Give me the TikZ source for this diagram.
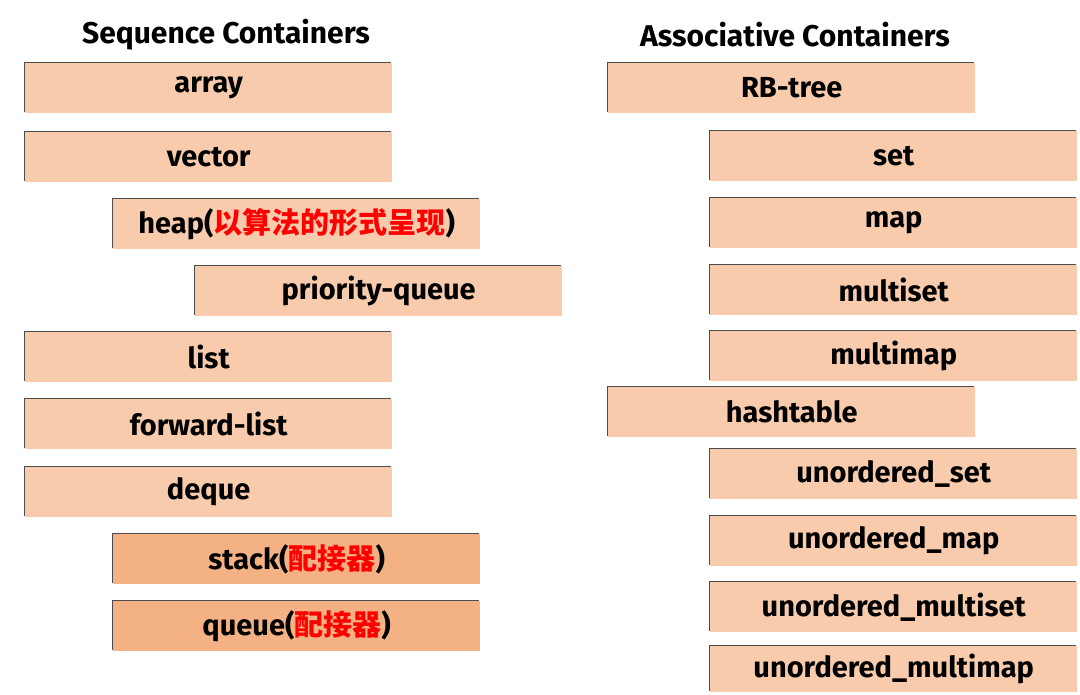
\documentclass[tikz,border=0pt]{standalone}
\usepackage{fontspec}
\setmainfont{Fira Sans}
\newfontfamily\cjk{Noto Sans CJK SC}
\usetikzlibrary{shadows}
\definecolor{boxfill}{HTML}{F8CBAD}
\definecolor{adapterfill}{HTML}{F4B183}
\newcommand{\zh}[1]{\textcolor{red}{\cjk\bfseries #1}}

\begin{document}
\begin{tikzpicture}[
				x=1pt, y=-1pt,
				every node/.style={font=\fontsize{29}{32}\selectfont\bfseries},
				container/.style={anchor=north west, fill=boxfill, minimum width=367pt, minimum height=50pt,
					inner sep=0pt, drop shadow={shadow xshift=-1.5pt, shadow yshift=1.5pt, fill=black!70, opacity=1}},
				adapter/.style={container, fill=adapterfill},
				title/.style={font=\fontsize{30}{33}\selectfont\bfseries}]

			\useasboundingbox (0,0) rectangle (1080,695);

			\node[title] (seq_title) at (226,35) {Sequence Containers};
			\node[title] (assoc_title) at (795,35) {Associative Containers};

			% sequence containers
			\node[container] (array) at (25,63) {array};
			\node[container] (vector) at (25,132) {vector};
			\node[container] (heap) at (113,199) {heap(\zh{以算法的形式呈现})};
			\node[container] (priority_queue) at (195,266) {priority-queue};
			\node[container] (list) at (25,332) {list};
			\node[container] (forward_list) at (25,399) {forward-list};
			\node[container] (deque) at (25,467) {deque};
			\node[adapter] (stack) at (113,534) {stack(\zh{配接器})};
			\node[adapter] (queue) at (113,601) {queue(\zh{配接器})};

			% associative containers
			\node[container] (rb_tree) at (608,63) {RB-tree};
			\node[container] (set) at (710,131) {set};
			\node[container] (map) at (710,198) {map};
			\node[container] (multiset) at (710,265) {multiset};
			\node[container] (multimap) at (710,331) {multimap};
			\node[container] (hashtable) at (608,387) {hashtable};
			\node[container] (unordered_set) at (710,449) {unordered\_set};
			\node[container] (unordered_map) at (710,516) {unordered\_map};
			\node[container] (unordered_multiset) at (710,582) {unordered\_multiset};
			\node[container, minimum height=46pt] (unordered_multimap) at (710,646) {unordered\_multimap};

		\end{tikzpicture}
\end{document}
